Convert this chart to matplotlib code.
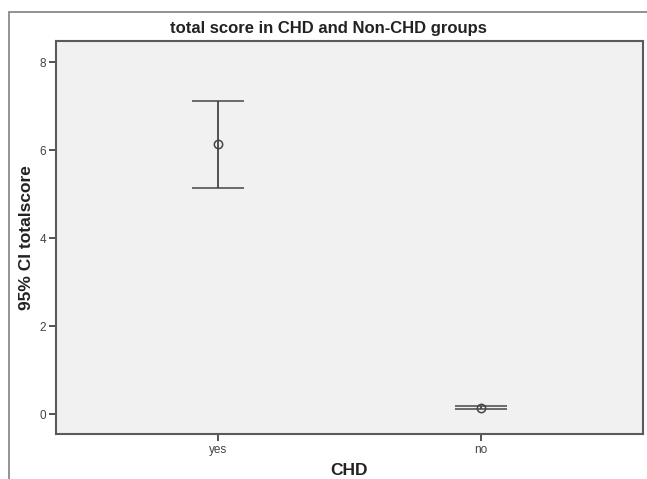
import matplotlib
matplotlib.use("Agg")
import matplotlib.pyplot as plt
import matplotlib.patches as patches

# data
groups = ["yes", "no"]
means = [6.13, 0.145]
ci_low = [5.15, 0.11]
ci_high = [7.12, 0.18]
y_ticks = [0, 2, 4, 6, 8]

W, H = 647, 479
fig = plt.figure(figsize=(W / 100, H / 100), dpi=100)
fig.patch.set_facecolor("white")

# outer chart frame (cut off on the right and bottom)
fig.add_artist(patches.Rectangle((9 / W, -0.05), 1.0, 1 - 12 / H + 0.05,
                                 transform=fig.transFigure, fill=False,
                                 edgecolor="#8a8a8a", linewidth=1.3))

ax = fig.add_axes([56 / W, 1 - 434 / H, (643 - 56) / W, (434 - 41) / H])
ax.set_facecolor("#f1f1f1")
for s in ax.spines.values():
    s.set_color("#5a5a5a")
    s.set_linewidth(1.5)

x = list(range(len(groups)))
yerr = [[m - lo for m, lo in zip(means, ci_low)],
        [hi - m for m, hi in zip(means, ci_high)]]
ax.errorbar(x, means, yerr=yerr, fmt="o", color="#454545", mfc="none",
            mec="#454545", ms=6, mew=1.1, elinewidth=1.3, capsize=19,
            capthick=1.3)

ax.set_xlim(-0.616, 1.616)
ax.set_ylim(-0.45, 8.48)
ax.set_xticks(x)
ax.set_xticklabels(groups)
ax.set_yticks(y_ticks)
ax.tick_params(axis="both", direction="out", length=5, width=1.3,
               color="#454545", labelsize=8.5, labelcolor="#444444")
ax.tick_params(axis="x", pad=2)
ax.tick_params(axis="y", pad=2)

ax.set_xlabel("CHD", fontsize=12.5, fontweight="bold", color="#222222",
              labelpad=5, family="Liberation Sans")
ax.set_ylabel("95% CI totalscore", fontsize=12.5, fontweight="bold",
              color="#222222", labelpad=4, family="Liberation Sans")
for lab in ax.get_xticklabels() + ax.get_yticklabels():
    lab.set_family("Liberation Sans")

fig.text(328 / W, 1 - 28 / H, "total score in CHD and Non-CHD groups",
         ha="center", va="center", fontsize=12, fontweight="bold",
         color="#222222", family="Liberation Sans")

fig.savefig("out.png", dpi=100)
